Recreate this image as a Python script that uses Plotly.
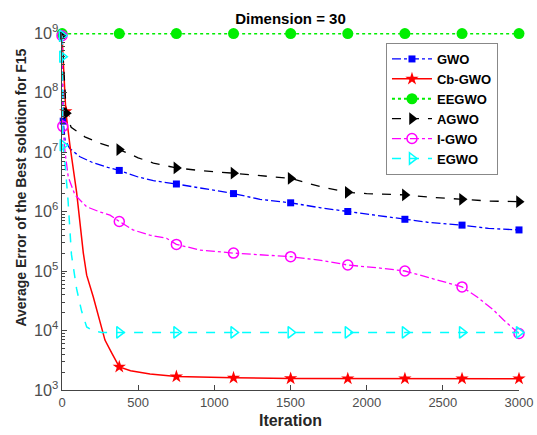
import plotly.graph_objects as go

# ---------------- data ----------------
gwo_x = [0, 8, 20, 50, 118, 204, 300, 376, 500, 600, 751, 900, 1000, 1126, 1300,
         1501, 1700, 1876, 2000, 2251, 2400, 2626, 2800, 3000]
gwo_y = [9.0e8, 3.3e7, 1.6e7, 1.15e7, 8.3e6, 6.6e6, 5.5e6, 4.9e6, 3.8e6, 3.3e6, 2.9e6,
         2.5e6, 2.3e6, 2.0e6, 1.6e6, 1.4e6, 1.15e6, 1.0e6, 9.2e5, 7.4e5, 6.6e5, 5.9e5,
         5.2e5, 4.9e5]
gwo_m = [8, 376, 751, 1126, 1501, 1876, 2251, 2626, 3000]

cb_x = [0, 25, 52, 96, 140, 162, 205, 249, 282, 326, 376, 450, 578, 751, 900, 1126,
        1501, 1876, 2251, 2626, 3000]
cb_y = [9.0e8, 4.8e7, 1.3e7, 2.1e6, 2.0e5, 8.5e4, 3.7e4, 1.4e4, 6.9e3, 4.2e3, 2.45e3,
        2.1e3, 1.85e3, 1.68e3, 1.63e3, 1.6e3, 1.56e3, 1.55e3, 1.55e3, 1.55e3, 1.55e3]
cb_m = [25, 376, 751, 1126, 1501, 1876, 2251, 2626, 3000]

ee_x = [1, 376, 751, 1126, 1501, 1876, 2251, 2626, 3000]
ee_y = [9.8e8, 9.8e8, 9.8e8, 9.8e8, 9.8e8, 9.8e8, 9.8e8, 9.8e8, 9.8e8]
ee_m = [1, 376, 751, 1126, 1501, 1876, 2251, 2626, 3000]

ag_x = [0, 28, 60, 150, 250, 376, 500, 600, 751, 900, 1126, 1300, 1501, 1700, 1876,
        2000, 2251, 2400, 2626, 2800, 3000]
ag_y = [9.0e8, 4.5e7, 2.6e7, 1.8e7, 1.4e7, 1.1e7, 8.0e6, 6.5e6, 5.4e6, 4.9e6, 4.4e6,
        4.0e6, 3.6e6, 2.6e6, 2.1e6, 2.0e6, 1.9e6, 1.75e6, 1.6e6, 1.5e6, 1.46e6]
ag_m = [0, 28, 376, 751, 1126, 1501, 1876, 2251, 2626, 3000]

ig_x = [0, 5, 20, 41, 85, 162, 250, 315, 376, 466, 577, 686, 751, 906, 1126, 1342,
        1501, 1700, 1876, 2088, 2251, 2460, 2626, 2723, 2833, 2899, 3000]
ig_y = [9.0e8, 2.7e7, 1.0e7, 3.8e6, 1.9e6, 1.2e6, 9.8e5, 8.7e5, 6.8e5, 4.9e5, 4.0e5,
        3.55e5, 2.8e5, 2.25e5, 2.0e5, 1.86e5, 1.74e5, 1.51e5, 1.26e5, 1.12e5, 1.0e5,
        7.1e4, 5.4e4, 3.7e4, 2.2e4, 1.5e4, 8.9e3]
ig_m = [0, 5, 376, 751, 1126, 1501, 1876, 2251, 2626, 3000]

eg_x = [0, 2, 5, 18, 40, 62, 96, 129, 162, 205, 260, 376, 751, 1126, 1501, 1876,
        2251, 2626, 3000]
eg_y = [9.0e8, 4.0e8, 1.3e7, 7.4e6, 1.5e6, 1.9e5, 5.0e4, 2.1e4, 1.15e4, 9.8e3, 9.3e3,
        9.3e3, 9.3e3, 9.3e3, 9.3e3, 9.3e3, 9.3e3, 9.3e3, 9.3e3]
eg_m = [0, 2, 5, 376, 751, 1126, 1501, 1876, 2251, 2626, 3000]

x_ticks = [0, 500, 1000, 1500, 2000, 2500, 3000]
names = ["GWO", "Cb-GWO", "EEGWO", "AGWO", "I-GWO", "EGWO"]

# ---------------- styles ----------------
series = [
    (gwo_x, gwo_y, gwo_m, "#0000ff", "dashdot", 1.3, "square", 7, "#0000ff"),
    (cb_x, cb_y, cb_m, "#ff0000", "solid", 1.5, "star", 10, "#ff0000"),
    (ee_x, ee_y, ee_m, "#00ee00", "dot", 2.2, "circle", 11, "#00ee00"),
    (ag_x, ag_y, ag_m, "#000000", "dash", 1.3, "triangle-right", 11, "#000000"),
    (ig_x, ig_y, ig_m, "#ff00ff", "dashdot", 1.3, "circle-open", 10, "#ff00ff"),
    (eg_x, eg_y, eg_m, "#00ffff", "dash", 1.5, "triangle-right-open", 10, "#00ffff"),
]

fig = go.Figure()
for name, (xs, ys, ms, col, dash, lw, sym, sz, mcol) in zip(names, series):
    fig.add_trace(go.Scatter(x=xs, y=ys, mode="lines", showlegend=False,
                             line=dict(color=col, dash=dash, width=lw), hoverinfo="skip"))
    mx = [x for x in xs if x in ms]
    my = [y for x, y in zip(xs, ys) if x in ms]
    mk = dict(symbol=sym, size=sz, color=mcol)
    if "open" in sym:
        mk["line"] = dict(color=mcol, width=1.5)
    fig.add_trace(go.Scatter(x=mx, y=my, mode="markers", showlegend=False,
                             marker=mk, cliponaxis=False))
    fig.add_trace(go.Scatter(x=[None], y=[None], mode="lines+markers",
                             name="<b>" + name + "</b>",
                             line=dict(color=col, dash=dash, width=lw), marker=mk))

axis_col = "#444444"
fig.update_layout(
    width=537, height=435,
    margin=dict(l=62, r=18, t=33, b=45),
    paper_bgcolor="white", plot_bgcolor="white",
    font=dict(family="Liberation Sans, Arial, sans-serif", color="#4d4d4d", size=13),
    title=dict(text="<b>Dimension = 30</b>", x=0.541, xanchor="center", y=0.958,
               yanchor="middle", font=dict(size=15, color="#000000")),
    showlegend=True,
    legend=dict(x=0.954, xanchor="right", y=0.972, yanchor="top",
                bgcolor="white", bordercolor="#888888", borderwidth=1,
                itemwidth=40,
                font=dict(size=13, color="#000000", family="Liberation Sans, Arial, sans-serif"),
                tracegroupgap=0),
    annotations=[dict(text="<b>Average Error of the Best solotion for F15</b>",
                      textangle=-90, xref="paper", yref="paper", x=-0.0897, y=0.567,
                      xanchor="center", yanchor="middle", showarrow=False,
                      font=dict(size=14, color="#262626"))],
)
fig.update_xaxes(range=[0, 3000], tickvals=x_ticks, ticks="inside", ticklen=5,
                 tickcolor=axis_col, showline=True, linecolor=axis_col, linewidth=1,
                 showgrid=False, zeroline=False, automargin=False,
                 title=dict(text="<b>Iteration</b>", font=dict(size=16, color="#262626"),
                            standoff=6))
fig.update_yaxes(type="log", range=[3, 9], dtick=1, tick0=0, exponentformat="power",
                 ticks="inside", ticklen=5, tickcolor=axis_col, showline=True,
                 linecolor=axis_col, linewidth=1, showgrid=False, zeroline=False,
                 automargin=False,
                 minor=dict(ticks="inside", ticklen=3, tickcolor=axis_col, dtick="D1",
                            showgrid=False))

fig.write_html("out.html", config={"displayModeBar": False},
               post_script="document.body.style.margin='0';")
